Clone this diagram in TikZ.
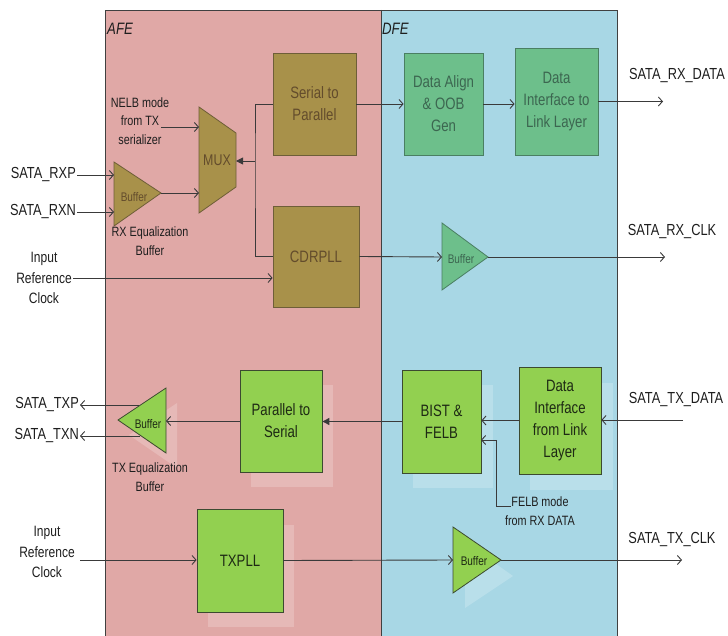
\documentclass[tikz,border=0pt]{standalone}
\usepackage{fontspec}
\setmainfont{Liberation Sans}[FakeStretch=0.8]
\usetikzlibrary{arrows.meta,calc}
\definecolor{afe}{HTML}{E0A8A6}
\definecolor{dfe}{HTML}{A8D7E5}
\definecolor{olive}{HTML}{A8914A}
\definecolor{olivedk}{HTML}{6E5E38}
\definecolor{olivetxt}{HTML}{634C2C}
\definecolor{dfegreen}{HTML}{6DBF8B}
\definecolor{dfegreendk}{HTML}{4A7F62}
\definecolor{dfegreentxt}{HTML}{3C6650}
\definecolor{txgreen}{HTML}{92D050}
\definecolor{txgreendk}{HTML}{3C4A30}
\definecolor{txgreentxt}{HTML}{1E2A14}
\definecolor{labtxt}{HTML}{1E1E1E}
\definecolor{wirec}{HTML}{3A3A3A}

\begin{document}
\begin{tikzpicture}[x=1pt, y=-1pt,
  blk/.style={draw, line width=0.8pt, align=center, inner sep=0pt, font=\fontsize{16.5}{22}\selectfont},
  rxblk/.style={blk, fill=olive, draw=olivedk, text=olivetxt},
  dfeblk/.style={blk, fill=dfegreen, draw=dfegreendk, text=dfegreentxt},
  txblk/.style={blk, fill=txgreen, draw=txgreendk, text=txgreentxt},
  ghost/.style={fill=white, opacity=0.2},
  dom/.style={font=\fontsize{16.5}{20}\selectfont\itshape, text=labtxt, inner sep=0pt},
  sig/.style={font=\fontsize{16}{20}\selectfont, text=labtxt, inner sep=1pt},
  clk/.style={font=\fontsize{15}{20.5}\selectfont, text=labtxt, align=center, inner sep=0pt},
  note/.style={font=\fontsize{13.5}{18.5}\selectfont, text=labtxt, align=center, inner sep=0pt},
  buf/.style={line width=0.8pt},
  bufl/.style={font=\fontsize{12.5}{15}\selectfont, inner sep=0pt},
  wire/.style={line width=0.9pt, draw=wirec},
  arr/.style={wire, -{Straight Barb[length=4pt,width=9pt]}},
  farr/.style={wire, -{Triangle[length=7pt,width=7pt]}}]
  \useasboundingbox (0,0) rectangle (728,636);
  % AFE and DFE domains
  \fill[afe] (105,10) rectangle (381,636);
  \fill[dfe] (381,10) rectangle (617,636);
  \draw[line width=0.7pt, draw=gray!50!black] (105,636) -- (105,10) -- (617,10) -- (617,636) (381,10) -- (381,636);
  \node[dom, anchor=west] (afel) at (107,29) {AFE};
  \node[dom, anchor=west] (dfel) at (382,29) {DFE};
  % receive path
  \node[rxblk, minimum width=83pt, minimum height=102pt] (s2p) at (314.5,104) {Serial to\\Parallel};
  \node[rxblk, minimum width=86pt, minimum height=101pt] (cdr) at (316,256.5) {CDRPLL};
  \node[dfeblk, minimum width=79pt, minimum height=102pt] (da) at (443.5,104) {Data Align\\\& OOB\\Gen};
  \node[dfeblk, minimum width=83pt, minimum height=107pt] (dil) at (556.5,101.5) {Data\\Interface to\\Link Layer};
  \draw[buf, fill=olive, draw=olivedk] (199,107) -- (236,133) -- (236,187) -- (199,213) -- cycle;
  \node[font=\fontsize{15.5}{18}\selectfont, text=olivetxt, inner sep=0pt] (mux) at (217,160) {MUX};
  \coordinate (muxl) at (199,160);
  \coordinate (muxr) at (236,160);
  \coordinate (rbl) at (114,194);
  \coordinate (rbt) at (161,193);
  \draw[buf, fill=olive, draw=olivedk] (114,162) -- (rbt) -- (114,226) -- cycle;
  \node[bufl, text=olivetxt] (rbuf) at (134,197) {Buffer};
  \node[note] (rxeq) at (150,241) {RX Equalization\\Buffer};
  \node[note] (nelb) at (140,121) {NELB mode\\from TX\\serializer};
  \coordinate (nelbo) at (161,127);
  \node[sig, anchor=east] (rxp) at (77,175) {SATA\_RXP};
  \node[sig, anchor=east] (rxn) at (77,212) {SATA\_RXN};
  \node[clk] (irc1) at (44,278) {Input\\Reference\\Clock};
  \draw[arr] (rxp.east) -- (rxp.east -| rbl);
  \draw[arr] (rxn.east) -- (rxn.east -| rbl);
  \draw[arr] (rbt) -- (rbt -| muxl);
  \draw[arr] (nelbo) -- (nelbo -| muxl);
  \coordinate (br) at (255,161);
  \draw[wire] (s2p.west) -| (br) |- (cdr.west);
  \draw[farr] (br) -- (br -| muxr);
  \draw[arr] (73,278) -- (73,278 -| cdr.west);
  \draw[arr] (s2p.east) -- (da.west);
  \draw[arr] (da.east) -- (da.east -| dil.west);
  \coordinate (rxdo) at (663,101.5);
  \draw[arr] (dil.east) -- (rxdo);
  \node[sig] (rxd) at (677,76) {SATA\_RX\_DATA};
  \coordinate (cbl) at (442,257);
  \coordinate (cbt) at (488,257);
  \draw[buf, fill=dfegreen, draw=dfegreendk] (442,223) -- (cbt) -- (442,290) -- cycle;
  \node[bufl, text=dfegreentxt] (cbuf) at (461,259) {Buffer};
  \draw[arr] (cdr.east) -- (cbl);
  \coordinate (rxco) at (665,257);
  \draw[arr] (cbt) -- (rxco);
  \node[sig] (rxc) at (672,232) {SATA\_RX\_CLK};
  % transmit path
  \fill[ghost] (251,385) rectangle (333,487);
  \fill[ghost] (413,385) rectangle (493,488);
  \fill[ghost] (530,383) rectangle (613,490);
  \fill[ghost] (208,525) rectangle (294,627);
  \fill[ghost] (177,403) -- (129,435) -- (177,468) -- cycle;
  \fill[ghost] (465,542) -- (513,576) -- (465,608) -- cycle;
  \node[txblk, minimum width=82pt, minimum height=102pt] (p2s) at (281,421) {Parallel to\\Serial};
  \node[txblk, minimum width=79pt, minimum height=103pt] (bist) at (441.5,421.5) {BIST \&\\FELB};
  \node[txblk, minimum width=82pt, minimum height=107pt] (difl) at (560,420.5) {Data\\Interface\\from Link\\Layer};
  \node[txblk, minimum width=86pt, minimum height=103pt] (txpll) at (240,560.5) {TXPLL};
  \coordinate (tbr) at (166,421);
  \draw[buf, fill=txgreen, draw=txgreendk] (166,388) -- (118,420) -- (166,453) -- cycle;
  \node[bufl, text=txgreentxt] (tbuf) at (148,424) {Buffer};
  \node[note] (txeq) at (150,477) {TX Equalization\\Buffer};
  \node[sig, anchor=east] (txp) at (80,405) {SATA\_TXP};
  \node[sig, anchor=east] (txn) at (80,436) {SATA\_TXN};
  \coordinate (txpo) at (139,405);
  \coordinate (txno) at (140,436);
  \draw[arr] (txpo) -- (txp.east);
  \draw[arr] (txno) -- (txn.east);
  \draw[arr] (p2s.west) -- (tbr);
  \draw[farr] (bist.west) -- (bist.west -| p2s.east);
  \draw[arr] (difl.west) -- (difl.west -| bist.east);
  \coordinate (txdi) at (683,420);
  \draw[arr] (txdi) -- (txdi -| difl.east);
  \node[sig] (txd) at (676,400) {SATA\_TX\_DATA};
  \node[note] (felb) at (540,511) {FELB mode\\from RX DATA};
  \coordinate (felbo) at (511,506);
  \coordinate (felbi) at (481,440);
  \draw[arr] (felbo) -- (496,506) |- (felbi);
  \node[clk] (irc2) at (47,552) {Input\\Reference\\Clock};
  \draw[arr] (80,560) -- (80,560 -| txpll.west);
  \coordinate (kbl) at (453,560);
  \coordinate (kbt) at (501,560);
  \draw[buf, fill=txgreen, draw=txgreendk] (453,527) -- (kbt) -- (453,593) -- cycle;
  \node[bufl, text=txgreentxt] (kbuf) at (474,561) {Buffer};
  \draw[arr] (txpll.east) -- (kbl);
  \coordinate (txco) at (682,560);
  \draw[arr] (kbt) -- (txco);
  \node[sig] (txc) at (672,540) {SATA\_TX\_CLK};
\end{tikzpicture}
\end{document}
